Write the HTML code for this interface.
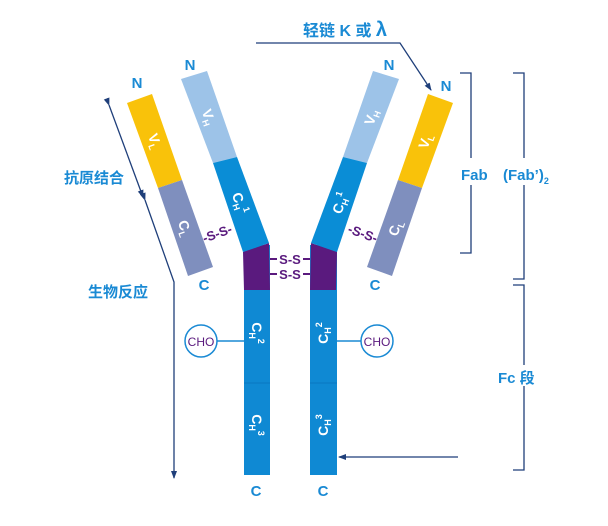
<!DOCTYPE html>
<html><head><meta charset="utf-8"><style>
html,body{margin:0;padding:0;background:#fff;}
svg{display:block;}
text{font-family:"Liberation Sans","Noto Sans CJK SC",sans-serif;font-weight:bold;}
.b{fill:#1a8ad4;}
.w{fill:#fff;font-size:14px;}
.p{fill:#5a1a7e;}
</style></head><body>
<svg width="608" height="526" viewBox="0 0 608 526" xmlns="http://www.w3.org/2000/svg">
<defs>
<marker id="a" markerWidth="8" markerHeight="8" refX="7" refY="4" orient="auto" markerUnits="userSpaceOnUse"><path d="M0,1 L8,4 L0,7 z" fill="#1f3f7a"/></marker>
</defs>
<!-- stems -->
<rect x="244" y="245" width="26" height="230" fill="#0f89d3"/>
<rect x="310" y="245" width="27" height="230" fill="#0f89d3"/>
<line x1="244" y1="383" x2="270" y2="383" stroke="#0a78c0" stroke-width="1"/>
<line x1="310" y1="383" x2="337" y2="383" stroke="#0a78c0" stroke-width="1"/>
<polygon points="243,252 269,243 270,290 244,290" fill="#5a1a7e"/>
<polygon points="311,243 337,252 336,290 310,290" fill="#5a1a7e"/>
<!-- left heavy arm -->
<polygon points="181,79 207,71 237,157 213,163" fill="#9dc3e8"/>
<polygon points="213,163 237,157 269,243 243,252" fill="#0a8dd6"/>
<!-- right heavy arm -->
<polygon points="399,79 373,71 343,157 367,163" fill="#9dc3e8"/>
<polygon points="367,163 343,157 311,243 337,252" fill="#0a8dd6"/>
<!-- light chains -->
<polygon points="127,103 152,94 182,180 158,188" fill="#f9c20a"/>
<polygon points="158,188 182,180 213,267 188,276" fill="#7f8fbe"/>
<polygon points="453,103 428,94 398,180 422,188" fill="#f9c20a"/>
<polygon points="422,188 398,180 367,267 392,276" fill="#7f8fbe"/>
<!-- domain labels -->
<text class="w" transform="translate(209,117) rotate(70.6)" text-anchor="middle" dy="5">V<tspan font-size="9" dy="3">H</tspan></text>
<text class="w" transform="translate(240,203) rotate(70.6)" text-anchor="middle" dy="5">C<tspan font-size="9" dy="3">H</tspan><tspan font-size="9" dy="-9">1</tspan></text>
<text class="w" transform="translate(155,141) rotate(70.6)" text-anchor="middle" dy="5">V<tspan font-size="9" dy="3">L</tspan></text>
<text class="w" transform="translate(185,228) rotate(70.6)" text-anchor="middle" dy="5">C<tspan font-size="9" dy="3">L</tspan></text>
<text class="w" transform="translate(371,117) rotate(-70.6)" text-anchor="middle" dy="5">V<tspan font-size="9" dy="3">H</tspan></text>
<text class="w" transform="translate(340,203) rotate(-70.6)" text-anchor="middle" dy="5">C<tspan font-size="9" dy="3">H</tspan><tspan font-size="9" dy="-9">1</tspan></text>
<text class="w" transform="translate(425,141) rotate(-70.6)" text-anchor="middle" dy="5">V<tspan font-size="9" dy="3">L</tspan></text>
<text class="w" transform="translate(395,228) rotate(-70.6)" text-anchor="middle" dy="5">C<tspan font-size="9" dy="3">L</tspan></text>
<text class="w" transform="translate(257,333) rotate(90)" text-anchor="middle" dy="5">C<tspan font-size="9" dy="3">H</tspan><tspan font-size="9" dy="-9">2</tspan></text>
<text class="w" transform="translate(257,425) rotate(90)" text-anchor="middle" dy="5">C<tspan font-size="9" dy="3">H</tspan><tspan font-size="9" dy="-9">3</tspan></text>
<text class="w" transform="translate(323,333) rotate(-90)" text-anchor="middle" dy="5">C<tspan font-size="9" dy="3">H</tspan><tspan font-size="9" dy="-9">2</tspan></text>
<text class="w" transform="translate(323,425) rotate(-90)" text-anchor="middle" dy="5">C<tspan font-size="9" dy="3">H</tspan><tspan font-size="9" dy="-9">3</tspan></text>
<!-- disulfides -->
<line x1="270" y1="259" x2="310" y2="259" stroke="#5a1a7e" stroke-width="2"/>
<line x1="270" y1="274" x2="310" y2="274" stroke="#5a1a7e" stroke-width="2"/>
<rect x="277" y="251" width="26" height="30" fill="#fff"/>
<text class="p" x="290" y="264" font-size="13" text-anchor="middle">S-S</text>
<text class="p" x="290" y="279" font-size="13" text-anchor="middle">S-S</text>
<text class="p" transform="translate(217,233) rotate(-20)" font-size="13" text-anchor="middle" dy="5">-S-S-</text>
<text class="p" transform="translate(363,233) rotate(20)" font-size="13" text-anchor="middle" dy="5">-S-S-</text>
<!-- CHO -->
<line x1="217" y1="341" x2="244" y2="341" stroke="#1a8ad4" stroke-width="1.5"/>
<line x1="337" y1="341" x2="361" y2="341" stroke="#1a8ad4" stroke-width="1.5"/>
<circle cx="201" cy="341" r="16" fill="#fff" stroke="#1a8ad4" stroke-width="1.5"/>
<circle cx="377" cy="341" r="16" fill="#fff" stroke="#1a8ad4" stroke-width="1.5"/>
<text x="201" y="346" font-size="12" text-anchor="middle" style="font-weight:normal" fill="#5a1a7e">CHO</text>
<text x="377" y="346" font-size="12" text-anchor="middle" style="font-weight:normal" fill="#5a1a7e">CHO</text>
<!-- N / C labels -->
<g class="b" font-size="15" text-anchor="middle">
<text class="b" x="137" y="88">N</text>
<text class="b" x="190" y="70">N</text>
<text class="b" x="389" y="70">N</text>
<text class="b" x="446" y="91">N</text>
<text class="b" x="204" y="290">C</text>
<text class="b" x="375" y="290">C</text>
<text class="b" x="256" y="496">C</text>
<text class="b" x="323" y="496">C</text>
</g>
<!-- arrows -->
<g stroke="#1f3f7a" stroke-width="1.3" fill="none">
<line x1="109" y1="105" x2="143" y2="197" marker-start="url(#a)" marker-end="url(#a)"/>
<polyline points="145,200 174,282 174,478" marker-start="url(#a)" marker-end="url(#a)"/>
<polyline points="256,43 400,43 431,90" marker-end="url(#a)"/>
<line x1="458" y1="457" x2="339" y2="457" marker-end="url(#a)"/>
<polyline points="460,73 471,73 471,158"/>
<polyline points="471,185 471,253 460,253"/>
<polyline points="513,73 524,73 524,158"/>
<polyline points="524,185 524,279 513,279"/>
<polyline points="513,285 524,285 524,365"/>
<polyline points="524,386 524,470 513,470"/>
</g>
<!-- text labels -->
<text class="b" x="303" y="36" font-size="16">轻链 K 或 <tspan font-size="20">λ</tspan></text>
<text class="b" x="64" y="183" font-size="15">抗原结合</text>
<text class="b" x="88" y="297" font-size="15">生物反应</text>
<text class="b" x="461" y="180" font-size="15">Fab</text>
<text class="b" x="503" y="180" font-size="15">(Fab’)<tspan font-size="9" dy="4">2</tspan></text>
<text class="b" x="498" y="383" font-size="15">Fc 段</text>
</svg>
</body></html>
